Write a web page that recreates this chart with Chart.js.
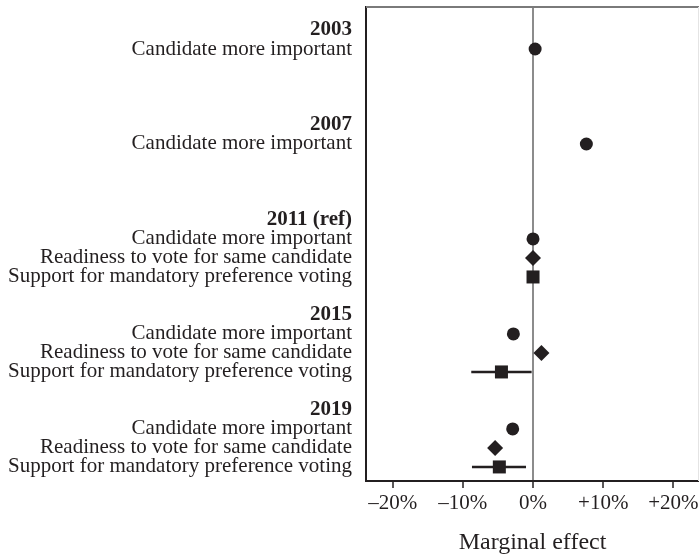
<!DOCTYPE html>
<html>
<head>
<meta charset="utf-8">
<script src="https://cdn.jsdelivr.net/npm/chart.js@4/dist/chart.umd.min.js"></script>
<style>
  html, body { margin: 0; padding: 0; background: #ffffff; }
  #wrap { width: 699px; height: 555px; }
</style>
</head>
<body>
<div id="wrap"><canvas id="chart" width="699" height="555"></canvas></div>
<script>
// Election years and survey items
const years = ['2003', '2007', '2011 (ref)', '2015', '2019'];
const items = [
  'Candidate more important',
  'Readiness to vote for same candidate',
  'Support for mandatory preference voting'
];
// Number of items asked in each year
const itemsPerYear = [1, 1, 3, 3, 3];

// Marginal effects (percentage points) per year
const candidateEffect = [0.3, 7.6, 0, -2.8, -2.9];
const readinessEffect = [null, null, 0, 1.2, -5.4];
const supportEffect   = [null, null, 0, -4.5, -4.8];
// Confidence interval for mandatory preference voting
const supportLow  = [null, null, null, -8.8, -8.7];
const supportHigh = [null, null, null, -0.2, -1.0];

// Horizontal axis ticks
const xTicks = [-20, -10, 0, 10, 20];

const INK = '#231f20';
const FONT = "'Liberation Serif', 'Times New Roman', serif";

// Row positions: each year block has a header row followed by its items
const headerRow = i => 5 * i - 1;
const itemRow = (i, j) => 5 * i + j;

const rowLabels = [];
years.forEach((y, i) => {
  rowLabels.push({ value: headerRow(i), text: y, bold: true });
  for (let j = 0; j < itemsPerYear[i]; j++) {
    rowLabels.push({ value: itemRow(i, j), text: items[j], bold: false });
  }
});
const labelByRow = {};
rowLabels.forEach(r => { labelByRow[r.value] = r; });

function points(values, j) {
  const out = [];
  values.forEach((v, i) => { if (v !== null) out.push({ x: v, y: itemRow(i, j) }); });
  return out;
}

const markerSets = [
  { data: points(candidateEffect, 0), pointStyle: 'circle', pointRadius: 6.5 },
  { data: points(readinessEffect, 1), pointStyle: 'rectRot', pointRadius: 8 },
  { data: points(supportEffect, 2), pointStyle: 'rect', pointRadius: 9.2 }
].map(d => Object.assign({
  type: 'scatter',
  backgroundColor: INK,
  borderColor: INK,
  borderWidth: 0,
  pointHoverRadius: d.pointRadius,
  showLine: false
}, d));

const intervalSets = [];
supportLow.forEach((lo, i) => {
  if (lo === null) return;
  intervalSets.push({
    type: 'line',
    data: [{ x: lo, y: itemRow(i, 2) }, { x: supportHigh[i], y: itemRow(i, 2) }],
    borderColor: INK,
    borderWidth: 2.5,
    pointRadius: 0,
    pointHoverRadius: 0,
    fill: false
  });
});

// Top and right frame edges of the plotting area
const frame = {
  id: 'frame',
  beforeDatasetsDraw(chart) {
    const { ctx, chartArea: a } = chart;
    ctx.save();
    ctx.strokeStyle = '#7a7a7a';
    ctx.lineWidth = 2;
    ctx.beginPath();
    ctx.moveTo(a.left, a.top);
    ctx.lineTo(a.right, a.top);
    ctx.stroke();
    ctx.strokeStyle = '#e4e4e4';
    ctx.lineWidth = 1;
    ctx.beginPath();
    ctx.moveTo(a.right - 0.5, a.top);
    ctx.lineTo(a.right - 0.5, a.bottom);
    ctx.stroke();
    ctx.restore();
  }
};

new Chart(document.getElementById('chart'), {
  type: 'scatter',
  data: { datasets: markerSets.concat(intervalSets) },
  options: {
    responsive: false,
    animation: false,
    events: [],
    layout: { autoPadding: false, padding: { top: 7, right: 0, left: 0, bottom: 0 } },
    plugins: { legend: { display: false }, tooltip: { enabled: false } },
    scales: {
      x: {
        type: 'linear',
        min: -23.8,
        max: 23.65,
        afterBuildTicks: s => { s.ticks = xTicks.map(v => ({ value: v })); },
        afterFit: s => {
          s.height = 74;
          s.paddingLeft = 0;
          s.paddingRight = 0;
        },
        ticks: {
          color: INK,
          font: { family: FONT, size: 21 },
          padding: 3,
          maxRotation: 0,
          callback: v => v > 0 ? '+' + v + '%' : (v < 0 ? '\u2013' + Math.abs(v) + '%' : '0%')
        },
        grid: {
          drawOnChartArea: true,
          color: c => (c.tick && c.tick.value === 0) ? '#8c8c8c' : 'rgba(0,0,0,0)',
          lineWidth: 2,
          drawTicks: true,
          tickLength: 7,
          tickColor: INK,
          tickWidth: 1.5
        },
        border: { display: true, color: INK, width: 2 },
        title: {
          display: true,
          text: 'Marginal effect',
          color: INK,
          font: { family: FONT, size: 24 },
          padding: { top: 0, bottom: -2 }
        }
      },
      y: {
        type: 'linear',
        reverse: true,
        min: -2.21,
        max: 22.74,
        afterBuildTicks: s => { s.ticks = rowLabels.map(r => ({ value: r.value })); },
        afterFit: s => {
          s.width = 366;
          s.paddingTop = 0;
          s.paddingBottom = 0;
        },
        ticks: {
          color: INK,
          padding: 14,
          autoSkip: false,
          callback: v => labelByRow[v] ? labelByRow[v].text : '',
          font: c => ({
            family: FONT,
            size: 21,
            weight: (c.tick && labelByRow[c.tick.value] && labelByRow[c.tick.value].bold) ? 'bold' : 'normal'
          })
        },
        grid: { display: false, drawTicks: false },
        border: { display: true, color: INK, width: 2 }
      }
    }
  },
  plugins: [frame]
});
</script>
</body>
</html>
